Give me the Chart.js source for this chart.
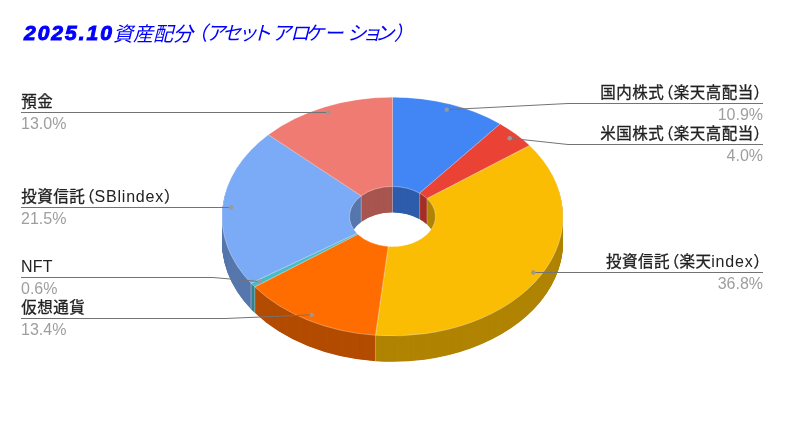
<!DOCTYPE html>
<html lang="ja">
<head>
<meta charset="utf-8">
<style>html,body{margin:0;padding:0;background:#fff}canvas{display:block}</style>
<script src="https://cdn.jsdelivr.net/npm/chart.js@4"></script>
</head>
<body>
<canvas id="c" width="785" height="421"></canvas>
<script>
const categories = ['国内株式（楽天高配当）','米国株式（楽天高配当）','投資信託（楽天index）','仮想通貨','NFT','投資信託（SBlindex）','預金'];
const values = [10.9, 4.0, 36.8, 13.4, 0.6, 21.5, 13.0];
const valueLabels = ['10.9%','4.0%','36.8%','13.4%','0.6%','21.5%','13.0%'];
const colors = ['#4285f4','#ea4335','#fbbc04','#ff6d01','#46bdc6','#7baaf7','#f07b72'];
const titleNumber = '2025.10';
const titleKanji = '資産配分';
const titleKana = '（アセットアロケーション）';

// layout only: glyph positions of the proportional title text
const titleKanjiX = [113, 133, 153, 173];
const titleKanaX = [188, 206, 222, 238, 252, 272, 290, 305, 324, 347, 362, 375, 394];
// layout of the leader lines: side, knee x, y of the horizontal run
const leaders = [
  {side:'right', knee:568, y:103.5},
  {side:'right', knee:568, y:144.5},
  {side:'right', knee:533, y:272.5},
  {side:'left',  knee:225, y:318.5},
  {side:'left',  knee:213, y:277.5},
  {side:'left',  knee:231, y:207.5},
  {side:'left',  knee:328, y:112.5}
];
const SQUASH = 0.7, DEPTH = 26, LEFT_X = 21, RIGHT_X = 763;
const DOT_RATIO = 0.95, SHADE = 0.7;
const LATIN_FONT = '16px "Liberation Sans"';
const CJK_FONT = '15.5px "Noto Sans CJK JP"';

function shade(hex){
  const n = parseInt(hex.slice(1),16);
  const f = v => Math.round(v*SHADE);
  return `rgb(${f(n>>16&255)},${f(n>>8&255)},${f(n&255)})`;
}
function squashAt(ctx, cy, dy){
  ctx.translate(0, cy + dy);
  ctx.scale(1, SQUASH);
  ctx.translate(0, -cy);
}
function isCJK(ch){ return ch.charCodeAt(0) > 0x2000; }
function nameLayout(ctx, text){
  let x = 0; const out = [];
  for (const ch of text){
    if (ch === '（'){ out.push({ch, x:x-6, cjk:true}); x += 9.5; }
    else if (ch === '）'){ out.push({ch, x, cjk:true}); x += 9.5; }
    else if (isCJK(ch)){ out.push({ch, x:x+0.25, cjk:true}); x += 16; }
    else {
      ctx.font = LATIN_FONT;
      out.push({ch, x, cjk:false});
      x += ctx.measureText(ch).width + (text.length > 3 ? 0.8 : 0.2);
    }
  }
  return {glyphs:out, width:x};
}
function drawName(ctx, text, x, y, align){
  const l = nameLayout(ctx, text);
  const x0 = align === 'right' ? x - l.width : x;
  ctx.strokeStyle = ctx.fillStyle;
  ctx.lineWidth = 0.3;
  for (const g of l.glyphs){
    ctx.font = g.cjk ? CJK_FONT : LATIN_FONT;
    ctx.fillText(g.ch, x0 + g.x, y);
    if (g.cjk) ctx.strokeText(g.ch, x0 + g.x, y);
  }
}

const pie3d = {
  id:'pie3d',
  beforeDatasetDraw(chart, args){
    const ctx = chart.ctx, arcs = args.meta.data;
    const cy = arcs[0].y, cx = arcs[0].x;
    for (let d = DEPTH; d > 0; d -= 0.5){
      ctx.save();
      squashAt(ctx, cy, d);
      arcs.forEach((el,i) => {
        const keep = el.options;
        el.options = Object.assign({}, keep, {backgroundColor:shade(colors[i]), borderWidth:0});
        el.draw(ctx);
        el.options = keep;
      });
      ctx.restore();
    }
    const outer = arcs[0].outerRadius, inner = arcs[0].innerRadius;
    ctx.save();
    ctx.strokeStyle = 'rgba(255,255,255,0.35)';
    ctx.lineWidth = 1;
    arcs.forEach(el => {
      const a = el.startAngle, front = Math.sin(a) > 0, r = front ? outer : inner;
      const x = cx + r*Math.cos(a), y = cy + SQUASH*r*Math.sin(a);
      ctx.save();
      if (!front){
        ctx.beginPath();
        ctx.ellipse(cx, cy, inner, inner*SQUASH, 0, 0, Math.PI*2);
        ctx.clip();
      }
      ctx.beginPath();
      ctx.moveTo(x, y);
      ctx.lineTo(x, y + DEPTH);
      ctx.stroke();
      ctx.restore();
    });
    ctx.restore();
    ctx.save();
    squashAt(ctx, cy, 0);
  },
  afterDatasetDraw(chart){
    chart.ctx.restore();
  },
  afterDraw(chart){
    const ctx = chart.ctx, arcs = chart.getDatasetMeta(0).data;
    ctx.save();
    ctx.textAlign = 'left';
    ctx.textBaseline = 'alphabetic';
    // title
    ctx.fillStyle = '#0000ff';
    ctx.strokeStyle = '#0000ff';
    ctx.font = 'italic bold 21px "Liberation Sans"';
    ctx.lineWidth = 1;
    ctx.letterSpacing = '2px';
    ctx.fillText(titleNumber, 24, 40);
    ctx.strokeText(titleNumber, 24, 40);
    ctx.letterSpacing = '0px';
    ctx.font = 'italic 20px "Noto Sans CJK JP"';
    [...titleKanji].forEach((ch,i) => ctx.fillText(ch, titleKanjiX[i], 40.5));
    ctx.font = 'italic 19.5px "Noto Sans CJK JP"';
    [...titleKana].forEach((ch,i) => ctx.fillText(ch, titleKanaX[i], 40));
    // leaders and labels
    arcs.forEach((el,i) => {
      const L = leaders[i];
      const mid = (el.startAngle + el.endAngle)/2;
      const r = el.outerRadius*DOT_RATIO;
      const px = el.x + r*Math.cos(mid), py = el.y + SQUASH*r*Math.sin(mid);
      const end = L.side === 'right' ? RIGHT_X : LEFT_X;
      ctx.strokeStyle = '#737373';
      ctx.lineWidth = 1;
      ctx.beginPath();
      ctx.moveTo(px, py);
      ctx.lineTo(L.knee, L.y);
      ctx.lineTo(end, L.y);
      ctx.stroke();
      ctx.fillStyle = '#999999';
      ctx.beginPath();
      ctx.arc(px, py, 2.2, 0, Math.PI*2);
      ctx.fill();
      ctx.fillStyle = '#222222';
      drawName(ctx, categories[i], end, L.y - 5.5, L.side);
      ctx.font = LATIN_FONT;
      ctx.fillStyle = '#9e9e9e';
      ctx.textAlign = L.side;
      ctx.fillText(valueLabels[i], end, L.y + 16.5);
      ctx.textAlign = 'left';
    });
    ctx.restore();
  }
};

new Chart(document.getElementById('c'), {
  type:'doughnut',
  data:{
    labels:categories,
    datasets:[{
      data:values,
      backgroundColor:colors,
      borderColor:'rgba(255,255,255,0.4)',
      borderWidth:1,
      clip:false
    }]
  },
  options:{
    responsive:false,
    animation:false,
    devicePixelRatio:1,
    radius:170.5,
    cutout:'25.2%',
    layout:{padding:{top:46,bottom:34,left:0,right:0}},
    plugins:{legend:{display:false},tooltip:{enabled:false},title:{display:false}}
  },
  plugins:[pie3d]
});
</script>
</body>
</html>
